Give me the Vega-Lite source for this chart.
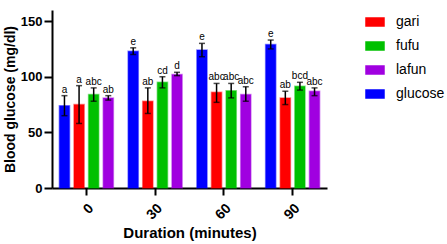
{
  "$schema": "https://vega.github.io/schema/vega-lite/v6.json",
  "autosize": {"type": "none"},
  "padding": {"left": 52, "top": 10, "right": 120, "bottom": 56},
  "width": 275,
  "height": 178,
  "background": "white",
  "config": {
    "view": {"stroke": null},
    "font": "Liberation Sans",
    "axis": {"grid": false, "domainColor": "black", "tickColor": "black", "labelColor": "black", "titleColor": "black", "labelFont": "Liberation Sans", "titleFont": "Liberation Sans"}
  },
  "data": {
    "values": [
      {"duration": "0", "food": "glucose", "mean": 74, "lo": 65, "hi": 83, "sig": "a"},
      {"duration": "0", "food": "gari", "mean": 75, "lo": 58, "hi": 92, "sig": "a"},
      {"duration": "0", "food": "fufu", "mean": 84, "lo": 78, "hi": 90, "sig": "abc"},
      {"duration": "0", "food": "lafun", "mean": 81, "lo": 79, "hi": 83, "sig": "ab"},
      {"duration": "30", "food": "glucose", "mean": 123, "lo": 120, "hi": 126, "sig": "e"},
      {"duration": "30", "food": "gari", "mean": 78, "lo": 67, "hi": 90, "sig": "ab"},
      {"duration": "30", "food": "fufu", "mean": 95, "lo": 90, "hi": 100, "sig": "cd"},
      {"duration": "30", "food": "lafun", "mean": 102, "lo": 101, "hi": 104, "sig": "d"},
      {"duration": "60", "food": "glucose", "mean": 124, "lo": 118, "hi": 130, "sig": "e"},
      {"duration": "60", "food": "gari", "mean": 86, "lo": 77, "hi": 94, "sig": "abc"},
      {"duration": "60", "food": "fufu", "mean": 87.5, "lo": 81, "hi": 94, "sig": "abc"},
      {"duration": "60", "food": "lafun", "mean": 84, "lo": 78, "hi": 91, "sig": "abc"},
      {"duration": "90", "food": "glucose", "mean": 129, "lo": 125, "hi": 133, "sig": "e"},
      {"duration": "90", "food": "gari", "mean": 81, "lo": 75, "hi": 87, "sig": "ab"},
      {"duration": "90", "food": "fufu", "mean": 91.5, "lo": 88, "hi": 95, "sig": "bcd"},
      {"duration": "90", "food": "lafun", "mean": 87, "lo": 83, "hi": 90, "sig": "abc"}
    ]
  },
  "encoding": {
    "x": {
      "field": "duration", "type": "ordinal", "sort": ["0", "30", "60", "90"],
      "scale": {"paddingInner": 0.15, "paddingOuter": 0.075},
      "axis": {"title": "Duration (minutes)", "labelAngle": -45, "labelFontSize": 14, "labelFontWeight": "bold", "titleFontSize": 15, "titleFontWeight": "bold", "domainWidth": 2, "tickWidth": 2, "tickSize": 7, "labelPadding": 6, "titlePadding": 4}
    },
    "xOffset": {
      "field": "food", "type": "nominal", "sort": ["glucose", "gari", "fufu", "lafun"],
      "scale": {"paddingInner": 0.3, "paddingOuter": 0.15}
    }
  },
  "layer": [
    {
      "mark": {"type": "bar", "strokeWidth": 1.5, "strokeOpacity": 0.45},
      "encoding": {
        "y": {
          "field": "mean", "type": "quantitative",
          "scale": {"domain": [0, 150]},
          "axis": {"title": "Blood glucose (mg/dl)", "values": [0, 50, 100, 150], "labelFontSize": 13, "labelFontWeight": "bold", "titleFontSize": 14, "titleFontWeight": "bold", "domainWidth": 2, "tickWidth": 2, "tickSize": 8, "labelPadding": 2, "titlePadding": 3}
        },
        "color": {
          "field": "food", "type": "nominal",
          "scale": {"domain": ["gari", "fufu", "lafun", "glucose"], "range": ["#ff0000", "#00c000", "#a000e0", "#0000ff"]},
          "legend": {"title": null, "orient": "none", "legendX": 313, "legendY": 5, "padding": 0, "symbolType": "M-1,-0.5H1V0.5H-1Z", "symbolSize": 380, "symbolStrokeWidth": 0, "symbolOpacity": 1, "labelFontSize": 14, "labelFont": "Liberation Sans", "labelColor": "black", "labelOffset": 11, "rowPadding": 10, "clipHeight": 14}
        },
        "stroke": {"field": "food", "type": "nominal", "scale": {"domain": ["gari", "fufu", "lafun", "glucose"], "range": ["#ff0000", "#00c000", "#a000e0", "#0000ff"]}, "legend": null}
      }
    },
    {
      "mark": {"type": "rule", "color": "black", "strokeWidth": 1.5},
      "encoding": {"y": {"field": "lo", "type": "quantitative"}, "y2": {"field": "hi"}}
    },
    {
      "mark": {"type": "tick", "color": "black", "thickness": 1.5, "size": 6},
      "encoding": {"y": {"field": "lo", "type": "quantitative"}}
    },
    {
      "mark": {"type": "tick", "color": "black", "thickness": 1.5, "size": 6},
      "encoding": {"y": {"field": "hi", "type": "quantitative"}}
    },
    {
      "mark": {"type": "text", "fontSize": 10, "color": "black", "baseline": "bottom", "dy": -1},
      "encoding": {"y": {"field": "hi", "type": "quantitative"}, "text": {"field": "sig"}}
    }
  ]
}
